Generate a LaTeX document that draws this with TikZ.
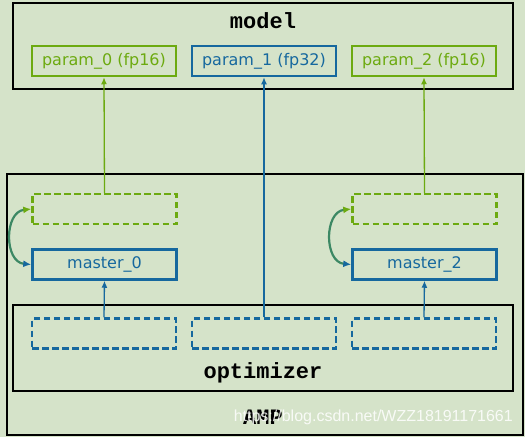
\documentclass[tikz,border=0pt]{standalone}
\usepackage{fontspec}
\usetikzlibrary{arrows.meta}
\newfontfamily\labfont{DejaVu Sans}
\newfontfamily\ttlfont{Liberation Mono}
\newfontfamily\wmfont{Liberation Sans}
\definecolor{grn}{RGB}{108,170,16}
\definecolor{blu}{RGB}{22,104,158}
\definecolor{bgc}{RGB}{213,227,201}
\definecolor{tealc}{RGB}{60,136,100}
\tikzset{
  bigbox/.style={draw=black, line width=2.6pt, minimum width=500pt, minimum height=86pt, inner sep=0pt},
  gbox/.style={draw=grn, line width=2.5pt, minimum width=144pt, minimum height=30pt, inner sep=0pt, text=grn, font=\labfont\fontsize{16}{18}\selectfont},
  bbox/.style={draw=blu, line width=2.5pt, minimum width=144pt, minimum height=30pt, inner sep=0pt, text=blu, font=\labfont\fontsize{16}{18}\selectfont},
  gdash/.style={gbox, dash pattern=on 6.5pt off 3.5pt},
  bdash/.style={bbox, dash pattern=on 6.5pt off 3.5pt},
  ttl/.style={font=\ttlfont\bfseries\fontsize{22}{24}\selectfont, inner sep=0pt},
  garrow/.style={draw=grn, line width=1.3pt, -{Latex[length=7pt,width=6pt]}},
  barrow/.style={draw=blu, line width=1.3pt, -{Latex[length=7pt,width=6pt]}},
  swap/.style={draw=tealc, line width=2.2pt, {Latex[length=8pt,width=7pt,fill=grn,color=grn]}-{Latex[length=8pt,width=7pt,fill=blu,color=blu]}},
}
\begin{document}
\begin{tikzpicture}[x=1pt,y=-1pt]
\fill[bgc] (0,0) rectangle (525,437);
\useasboundingbox (0,0) rectangle (525,437);
% AMP outer box
\node[draw=black, line width=2.6pt, minimum width=516pt, minimum height=261pt, inner sep=0pt] (amp) at (265,304.5) {};
% model
\node[bigbox] (model) at (263,46) {};
\node[ttl] (modeltitle) at (263,21) {model};
\node[gbox] (p0) at (104,61) {param\_0 (fp16)};
\node[bbox] (p1) at (264,61) {param\_1 (fp32)};
\node[gbox] (p2) at (424,61) {param\_2 (fp16)};
% fp16 copies and masters
\node[gdash] (g0) at (104.5,209) {};
\node[bbox] (m0) at (104.5,264.5) {master\_0};
\node[gdash] (g2) at (424.5,209) {};
\node[bbox] (m2) at (424.5,264.5) {master\_2};
% optimizer
\node[bigbox] (opt) at (263,348) {};
\node[bdash] (o0) at (104,333.5) {};
\node[bdash] (o1) at (264,333.5) {};
\node[bdash] (o2) at (424,333.5) {};
\node[ttl] (opttitle) at (263,373) {optimizer};
\node[ttl] (amptitle) at (263,417) {AMP};
% connectors
\draw[garrow] (g0.north) -- (p0.south);
\draw[garrow] (g2.north) -- (p2.south);
\draw[barrow] (o1.north) -- (p1.south);
\draw[barrow] (o0.north) -- (m0.south);
\draw[barrow] (o2.north) -- (m2.south);
\draw[swap] (g0.west) .. controls (4,212) and (4,262) .. (m0.west);
\draw[swap] (g2.west) .. controls (324,212) and (324,262) .. (m2.west);
% watermark
\node[font=\wmfont\fontsize{16}{18}\selectfont, text=white, opacity=0.85, anchor=east, inner sep=0pt] (wm) at (513,417) {https://blog.csdn.net/WZZ18191171661};
\end{tikzpicture}
\end{document}
